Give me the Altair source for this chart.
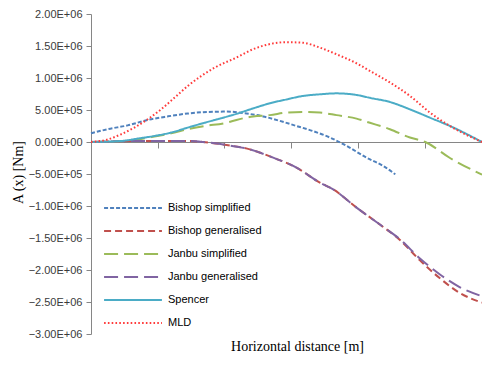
import altair as alt
import pandas as pd

series_names = ["Bishop simplified", "Bishop generalised", "Janbu simplified",
                "Janbu generalised", "Spencer", "MLD"]
colors = ["#4F81BD", "#C0504D", "#9BBB59", "#8064A2", "#4BACC6", "#FF3B3B"]
dashes = [[4, 2], [7, 4], [14, 6], [14, 6], [1, 0], [1.6, 2.2]]

x_ticks = [10, 20, 30, 40, 50]
y_ticks = [-3e6, -2.5e6, -2e6, -1.5e6, -1e6, -5e5, 0, 5e5, 1e6, 1.5e6, 2e6]

bs_x = [0, 2.5, 5.5, 8.5, 11.5, 14.5, 17.5, 20.3, 23.3, 25.8, 28.3, 30.8, 33.3, 35.8, 38.3, 41.3, 43.8, 45.6]
bs_y = [0.136e6, 0.2e6, 0.26e6, 0.345e6, 0.40e6, 0.445e6, 0.47e6, 0.475e6, 0.445e6, 0.40e6,
        0.33e6, 0.25e6, 0.17e6, 0.07e6, -0.06e6, -0.245e6, -0.375e6, -0.505e6]

bg_x = [0, 8.8, 14.3, 16.8, 20.3, 23.8, 27.3, 30.8, 34.3, 36.3, 39.8, 43.3, 46.3, 49.3, 52.3, 55.3, 58.6]
bg_y = [0, 0.016e6, 0.016e6, 0, -0.047e6, -0.115e6, -0.245e6, -0.40e6, -0.635e6, -0.74e6,
        -1.025e6, -1.29e6, -1.53e6, -1.85e6, -2.13e6, -2.36e6, -2.51e6]

js_x = [0, 4.5, 7.0, 9.5, 12.0, 14.5, 17.0, 20.3, 21.8, 24.3, 26.8, 29.3, 31.8, 34.3, 36.8,
        39.8, 41.8, 44.8, 47.8, 50.1, 53.8, 58.6]
js_y = [0, 0.01e6, 0.04e6, 0.085e6, 0.135e6, 0.2e6, 0.25e6, 0.30e6, 0.345e6, 0.40e6, 0.42e6,
        0.46e6, 0.47e6, 0.46e6, 0.42e6, 0.365e6, 0.30e6, 0.20e6, 0.07e6, 0, -0.25e6, -0.51e6]

jg_x = [0, 8.8, 14.3, 16.8, 20.3, 23.8, 27.3, 30.8, 34.3, 36.3, 39.8, 43.3, 46.3, 49.3, 52.3, 55.3, 58.6]
jg_y = [0, 0.016e6, 0.016e6, 0, -0.047e6, -0.115e6, -0.245e6, -0.40e6, -0.635e6, -0.74e6,
        -1.025e6, -1.29e6, -1.52e6, -1.82e6, -2.07e6, -2.27e6, -2.41e6]

sp_x = [0, 4.5, 7.0, 9.5, 12.0, 14.5, 17.0, 19.3, 21.8, 24.3, 26.8, 29.3, 31.8, 34.3, 36.8,
        39.8, 41.8, 44.8, 47.8, 50.8, 53.8, 58.6]
sp_y = [0, 0.016e6, 0.053e6, 0.094e6, 0.147e6, 0.225e6, 0.30e6, 0.365e6, 0.44e6, 0.525e6,
        0.605e6, 0.665e6, 0.72e6, 0.745e6, 0.76e6, 0.735e6, 0.69e6, 0.625e6, 0.51e6, 0.38e6,
        0.25e6, 0]

mld_x = [0, 2.5, 4.5, 6.5, 8.5, 10.5, 12.5, 14.5, 16.5, 18.5, 21.8, 24.3, 26.8, 29.3, 31.8,
         34.3, 36.8, 39.8, 41.8, 44.8, 47.8, 50.8, 53.8, 58.6]
mld_y = [0, 0.04e6, 0.12e6, 0.225e6, 0.355e6, 0.51e6, 0.69e6, 0.875e6, 1.03e6, 1.16e6, 1.32e6,
         1.45e6, 1.53e6, 1.56e6, 1.55e6, 1.475e6, 1.37e6, 1.23e6, 1.11e6, 0.93e6, 0.72e6,
         0.46e6, 0.25e6, 0]

all_x = [bs_x, bg_x, js_x, jg_x, sp_x, mld_x]
all_y = [bs_y, bg_y, js_y, jg_y, sp_y, mld_y]

rows = []
for i, (name, xs, ys) in enumerate(zip(series_names, all_x, all_y)):
    for j, (xv, yv) in enumerate(zip(xs, ys)):
        rows.append({"series": name, "x": xv, "y": yv, "k": i})
df = pd.DataFrame(rows)

label_expr = "replace(format(datum.value, '.2e'), 'e+', 'E+0')"

chart = alt.Chart(df).mark_line(strokeWidth=2, interpolate="monotone").encode(
    x=alt.X("x:Q",
            scale=alt.Scale(domain=[0, 58.6], nice=False, zero=False),
            axis=alt.Axis(values=x_ticks, labels=False, title="Horizontal distance [m]",
                          tickSize=6, offset=-192, grid=False,
                          domainColor="#868686", tickColor="#868686",
                          titleFont="Liberation Serif", titleFontSize=14,
                          titleFontWeight="normal", titleColor="black",
                          titleX=206, titleY=204, titleBaseline="middle", titleAlign="center")),
    y=alt.Y("y:Q",
            scale=alt.Scale(domain=[-3e6, 2e6], nice=False, zero=False),
            axis=alt.Axis(values=y_ticks, labelExpr=label_expr, title="A (x) [Nm]",
                          tickSize=5, grid=False, labelPadding=4,
                          domainColor="#868686", tickColor="#868686",
                          labelFont="Liberation Sans", labelFontSize=11, labelColor="#3A3A3A",
                          titleFont="Liberation Serif", titleFontSize=14,
                          titleFontWeight="normal", titleColor="black",
                          titleX=-73, titleY=158, titleAngle=-90,
                          titleBaseline="middle", titleAlign="center")),
    color=alt.Color("series:N", scale=alt.Scale(domain=series_names, range=colors),
                    legend=alt.Legend(title=None)),
    strokeDash=alt.StrokeDash("series:N", scale=alt.Scale(domain=series_names, range=dashes),
                              legend=alt.Legend(title=None)),
    order=alt.Order("k:Q"),
).properties(
    width=391, height=320,
    padding={"left": 91, "top": 14, "right": 0, "bottom": 39},
    autosize=alt.AutoSizeParams(type="none"),
).configure_view(stroke=None).configure_legend(
    orient="none", legendX=36, legendY=188, symbolType="M-6,0H6", symbolSize=93,
    symbolStrokeWidth=2, labelFont="Liberation Sans", labelFontSize=11, labelColor="black",
    rowPadding=12, labelOffset=29, padding=0,
)

chart.save("out.html", embed_options={"renderer": "svg", "actions": False})
